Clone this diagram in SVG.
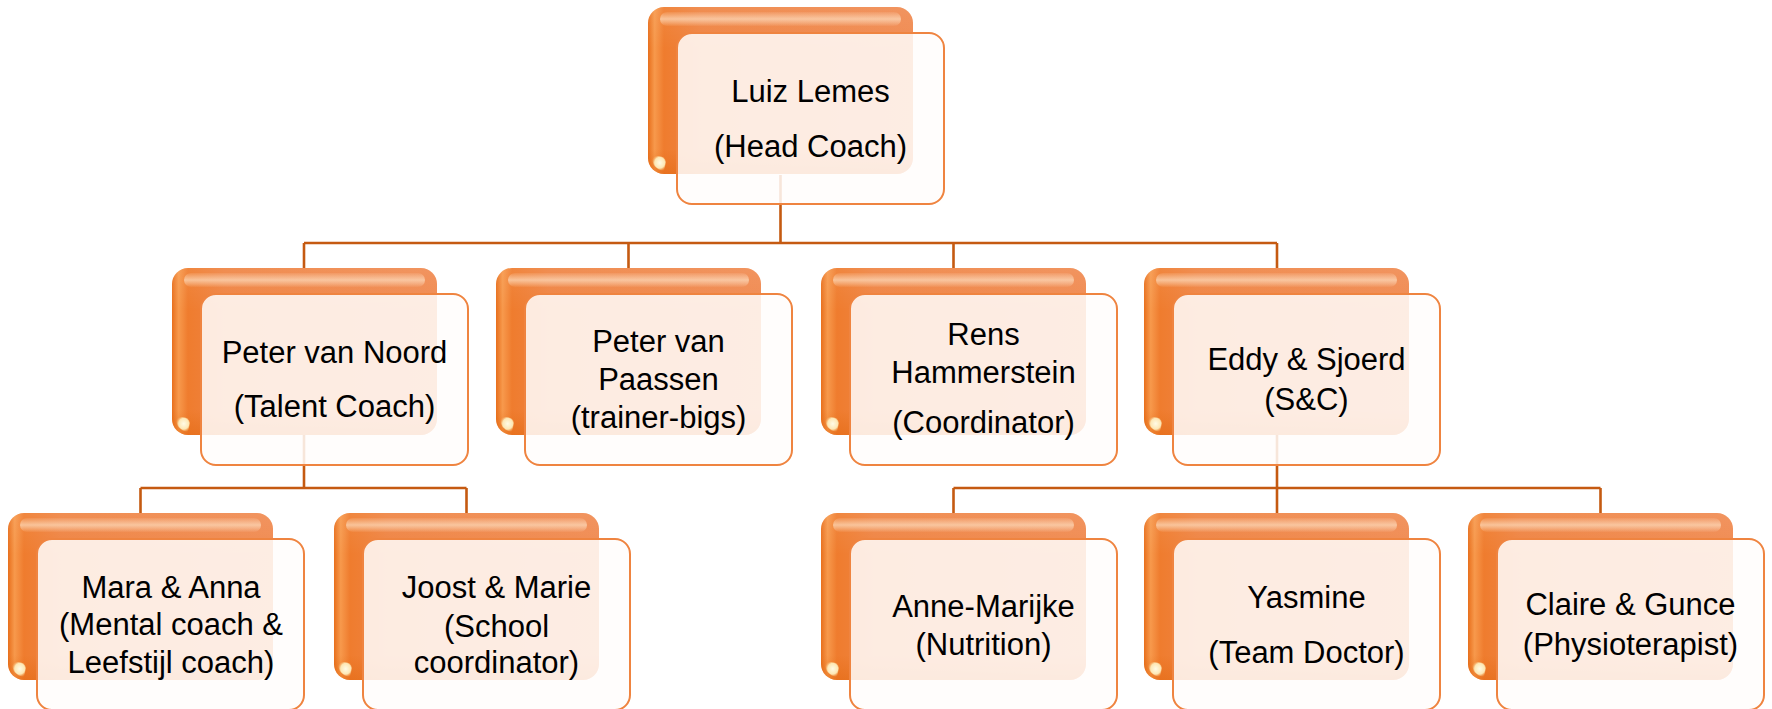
<svg xmlns="http://www.w3.org/2000/svg" width="1772" height="709" viewBox="0 0 1772 709">
<defs>
<linearGradient id="gBackH" x1="0" y1="0" x2="1" y2="0">
<stop offset="0" stop-color="#E86F1C"/>
<stop offset="0.025" stop-color="#F7994C"/>
<stop offset="0.06" stop-color="#EF7C2E"/>
<stop offset="0.2" stop-color="#EF8443"/>
<stop offset="1" stop-color="#F08B52"/>
</linearGradient>
<linearGradient id="gBackV" x1="0" y1="0" x2="0" y2="1">
<stop offset="0" stop-color="#FFFFFF" stop-opacity="0.08"/>
<stop offset="0.25" stop-color="#FFFFFF" stop-opacity="0"/>
<stop offset="0.85" stop-color="#E0650C" stop-opacity="0"/>
<stop offset="1" stop-color="#E0650C" stop-opacity="0.45"/>
</linearGradient>
<linearGradient id="gShine" x1="0" y1="0" x2="0" y2="1">
<stop offset="0" stop-color="#FCE0C6" stop-opacity="0.1"/>
<stop offset="0.5" stop-color="#FCD8B8" stop-opacity="0.75"/>
<stop offset="1" stop-color="#FCE0C6" stop-opacity="0.05"/>
</linearGradient>
<radialGradient id="gDot" cx="0.55" cy="0.45" r="0.6">
<stop offset="0" stop-color="#FFFBE6"/>
<stop offset="0.6" stop-color="#FDE7B4"/>
<stop offset="1" stop-color="#F39A4A" stop-opacity="0"/>
</radialGradient>
<g id="card">
<rect x="0" y="0" width="265" height="167" rx="16" fill="url(#gBackH)"/>
<rect x="0" y="0" width="265" height="167" rx="16" fill="url(#gBackV)"/>
<rect x="12" y="5" width="241" height="14" rx="7" fill="url(#gShine)"/>
<path d="M4,150 Q4,162 16,164 L18,155 Q17,149 10,149 Z" fill="url(#gDot)"/>
<rect x="29" y="26" width="267" height="171" rx="15" fill="#FFFDFB" fill-opacity="0.86" stroke="#EF8440" stroke-width="2"/>
</g>
</defs>
<style>
.conn{stroke:#C55A11;stroke-width:2.6;fill:none}
.t{font-family:"Liberation Sans",Arial,sans-serif;font-size:31px;fill:#000;text-anchor:middle}
</style>
<rect width="1772" height="709" fill="#FFFFFF"/>
<g id="connectors">
<path class="conn" d="M780.5,175 V243 M304,243 H1277 M304,243 V268 M628.5,243 V268 M953.5,243 V268 M1277,243 V268"/>
<path class="conn" d="M304,435 V488 M140.5,488 H466.5 M140.5,488 V513 M466.5,488 V513"/>
<path class="conn" d="M1277,435 V488 M953.5,488 H1600.5 M953.5,488 V513 M1277,488 V513 M1600.5,488 V513"/>
</g>
<g id="node-luiz"><use href="#card" x="648" y="7"/><text class="t" x="810.5" y="102">Luiz Lemes</text><text class="t" x="810.5" y="157">(Head Coach)</text></g>
<g id="node-pvnoord"><use href="#card" x="172" y="268"/><text class="t" x="334.5" y="363">Peter van Noord</text><text class="t" x="334.5" y="417">(Talent Coach)</text></g>
<g id="node-pvpaassen"><use href="#card" x="496" y="268"/><text class="t" x="658.5" y="352">Peter van</text><text class="t" x="658.5" y="390">Paassen</text><text class="t" x="658.5" y="428">(trainer-bigs)</text></g>
<g id="node-rens"><use href="#card" x="821" y="268"/><text class="t" x="983.5" y="345">Rens</text><text class="t" x="983.5" y="383">Hammerstein</text><text class="t" x="983.5" y="433">(Coordinator)</text></g>
<g id="node-eddy"><use href="#card" x="1144" y="268"/><text class="t" x="1306.5" y="370">Eddy &amp; Sjoerd</text><text class="t" x="1306.5" y="410">(S&amp;C)</text></g>
<g id="node-mara"><use href="#card" x="8" y="513"/><text class="t" x="171" y="598">Mara &amp; Anna</text><text class="t" x="171" y="635">(Mental coach &amp;</text><text class="t" x="171" y="673">Leefstijl coach)</text></g>
<g id="node-joost"><use href="#card" x="334" y="513"/><text class="t" x="496.5" y="598">Joost &amp; Marie</text><text class="t" x="496.5" y="637">(School</text><text class="t" x="496.5" y="673">coordinator)</text></g>
<g id="node-anne"><use href="#card" x="821" y="513"/><text class="t" x="983.5" y="617">Anne-Marijke</text><text class="t" x="983.5" y="655">(Nutrition)</text></g>
<g id="node-yasmine"><use href="#card" x="1144" y="513"/><text class="t" x="1306.5" y="608">Yasmine</text><text class="t" x="1306.5" y="663">(Team Doctor)</text></g>
<g id="node-claire"><use href="#card" x="1468" y="513"/><text class="t" x="1630.5" y="615">Claire &amp; Gunce</text><text class="t" x="1630.5" y="655">(Physioterapist)</text></g>
</svg>
